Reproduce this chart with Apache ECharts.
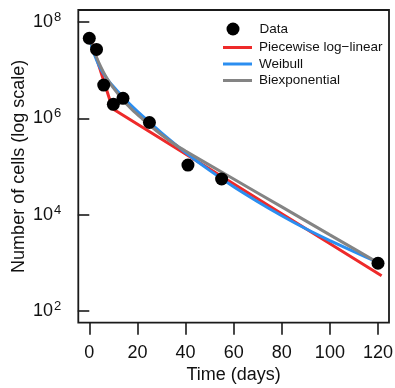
<!DOCTYPE html>
<html><head><meta charset="utf-8">
<script src="https://cdn.jsdelivr.net/npm/echarts@6/dist/echarts.min.js"></script>
<style>html,body{margin:0;padding:0;background:#fff}#c{width:395px;height:388px}</style>
</head><body><div id="c"></div>
<script>
// Observed data
const dataDays = [0, 3, 6, 10, 14, 25, 41, 55, 120];
const dataCells = [4.6e7, 2.7e7, 4.9e6, 1.95e6, 2.6e6, 8.2e5, 1.07e5, 5.5e4, 980];
// Piecewise log-linear fit
const pieceDays = [0, 9.7, 121.5];
const pieceCells = [5.25e7, 1.58e6, 540];
// Weibull fit
const weibullDays = [0, 1, 2, 4, 6, 8, 10, 14, 18, 23, 30, 40, 50, 60, 70, 80, 90, 100, 110, 121.5];
const weibullCells = [5.25e7, 3.16e7, 2.19e7, 1.26e7, 8.3e6, 6.0e6, 4.57e6, 2.75e6, 1.74e6, 1.02e6, 5.0e5, 1.95e5, 8.3e4, 3.8e4, 1.86e4, 9.5e3, 5.1e3, 2.9e3, 1.7e3, 955];
// Biexponential fit
const biexpDays = [0, 2, 4, 6, 8, 10, 14, 18, 22, 26, 30, 35, 40, 50, 60, 80, 100, 121.5];
const biexpCells = [5.25e7, 2.51e7, 1.41e7, 8.9e6, 6.0e6, 4.27e6, 2.4e6, 1.48e6, 9.8e5, 6.6e5, 4.57e5, 3.0e5, 2.09e5, 1.07e5, 5.5e4, 1.45e4, 3.8e3, 912];
// Ticks
const xTicks = [0, 20, 40, 60, 80, 100, 120];
const yTicks = [1e2, 1e4, 1e6, 1e8];

const seriesNames = ['Data', 'Piecewise log\u2212linear', 'Weibull', 'Biexponential'];
const colors = ['#000000', '#ee2a2a', '#2b8ef0', '#848484'];

const zip = (a, b) => a.map((v, i) => [v, b[i]]);
const FONT = '"Liberation Sans", Arial, sans-serif';
const AX = '#1a1a1a';

const chart = echarts.init(document.getElementById('c'), null, {renderer: 'canvas'});
const legendText = {fontSize: 13.5, fontFamily: FONT, color: '#111', padding: [0, 0, 0, 2]};
const legendTextData = Object.assign({}, legendText, {padding: [0, 0, 0, 7]});

chart.setOption({
  animation: false,
  backgroundColor: '#fff',
  grid: {show: true, outerBoundsMode: 'none', containLabel: false, left: 78.3, right: 6, top: 10, bottom: 65.3, borderColor: AX, borderWidth: 1.8, backgroundColor: 'transparent'},
  legend: [
    {data: [seriesNames[0]], left: 221.5, top: 17, orient: 'vertical', itemWidth: 29, itemHeight: 13, icon: 'circle', selectedMode: false, textStyle: legendTextData},
    {data: seriesNames.slice(1), left: 218, top: 35.5, orient: 'vertical', itemWidth: 29, itemHeight: 3, itemGap: 2.5, icon: 'rect', selectedMode: false, textStyle: legendText}
  ],
  xAxis: {
    type: 'value', min: -4.57, max: 124.57,
    name: 'Time (days)', nameLocation: 'middle', nameGap: 43, nameMoveOverlap: false,
    nameTextStyle: {fontSize: 18, fontFamily: FONT, color: '#111'},
    axisLine: {show: false},
    splitLine: {show: false},
    axisTick: {show: true, length: 12, customValues: xTicks, lineStyle: {color: AX, width: 1.6}},
    axisLabel: {customValues: xTicks, margin: 21, fontSize: 18, fontFamily: FONT, color: '#111', lineHeight: 18}
  },
  yAxis: {
    type: 'log', logBase: 10, min: Math.pow(10, 1.757), max: Math.pow(10, 8.249),
    name: 'Number of cells (log scale)', nameLocation: 'middle', nameGap: 50, nameMoveOverlap: false,
    nameTextStyle: {fontSize: 18, fontFamily: FONT, color: '#111'},
    axisLine: {show: false},
    splitLine: {show: false},
    axisTick: {show: true, length: 11.5, customValues: yTicks, lineStyle: {color: AX, width: 1.6}},
    axisLabel: {
      customValues: yTicks, margin: 17,
      formatter: v => '{b|10}{s|' + Math.round(Math.log10(v)) + '}',
      rich: {
        b: {fontSize: 18, fontFamily: FONT, color: '#111'},
        s: {fontSize: 13, fontFamily: FONT, color: '#111', padding: [0, 0, 9, 1]}
      }
    }
  },
  series: [
    {name: seriesNames[1], type: 'line', data: zip(pieceDays, pieceCells), showSymbol: false, symbol: 'none', color: colors[1], lineStyle: {width: 3, color: colors[1]}, z: 2},
    {name: seriesNames[2], type: 'line', data: zip(weibullDays, weibullCells), showSymbol: false, symbol: 'none', smooth: 0.2, color: colors[2], lineStyle: {width: 3, color: colors[2]}, z: 3},
    {name: seriesNames[3], type: 'line', data: zip(biexpDays, biexpCells), showSymbol: false, symbol: 'none', smooth: 0.2, color: colors[3], lineStyle: {width: 3, color: colors[3]}, z: 4},
    {name: seriesNames[0], type: 'scatter', data: zip(dataDays, dataCells), symbolSize: 13, color: colors[0], itemStyle: {color: colors[0], opacity: 1}, z: 5}
  ]
});
</script></body></html>
